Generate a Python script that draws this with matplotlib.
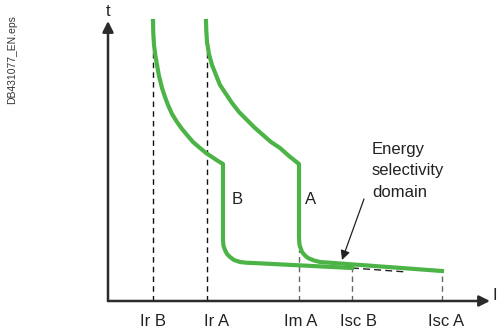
import matplotlib
matplotlib.use("Agg")
import matplotlib.pyplot as plt

plt.rcParams['font.family'] = ['Liberation Sans', 'DejaVu Sans']

# curve B (current, time), origin at the axes corner
b_curr = [45, 45.3, 46, 47.3, 49, 51, 54, 57, 60, 64, 69, 74, 79, 85, 92, 98, 104, 110, 115,
          115, 115.5, 117, 119, 122, 126, 132, 138, 145, 244]
b_time = [280, 268, 256, 246, 236, 225, 213, 204, 196, 187, 179, 172, 166, 159, 153, 148, 144, 140, 137,
          61, 55, 51, 47, 44, 41, 39, 38.3, 38, 33]

# curve A
a_curr = [98, 98.3, 99, 101, 104, 108, 112, 118, 124, 131, 139, 147, 155, 163, 172, 181, 191,
          191, 191.5, 194, 197, 200, 206, 212, 334]
a_time = [280, 270, 259, 247, 236, 226, 216, 207, 198, 189, 181, 173, 166, 159, 153, 145, 137,
          63, 56, 49, 45.5, 43, 40.5, 39, 30]

# dashed guide lines: position and top
guide_names = ["Ir B", "Ir A", "Im A", "Isc B", "Isc A"]
guide_pos = [45, 99, 191, 244, 334]
guide_top = [249, 259, 51, 33, 30]
label_pos = [45.5, 109, 193, 251, 338]
guide_col = ["#111111", "#111111", "#666666", "#666666", "#666666"]

# dashed continuation of B beyond Isc B
ext_curr = [244, 299]
ext_time = [33, 29]

green = "#4cb447"
axcol = "#2b2b2b"

fig = plt.figure(figsize=(4.97, 3.34), dpi=100)
ax = fig.add_axes([0, 0, 1, 1])
ax.set_xlim(-108, 389)
ax.set_ylim(-33, 301)
ax.axis("off")

for x, top, c in zip(guide_pos, guide_top, guide_col):
    ax.plot([x, x], [0, top], color=c, lw=1, dashes=(4, 3))
for name, x in zip(guide_names, label_pos):
    ax.text(x, -20, name, ha="center", va="center", fontsize=12, color="#222222")
ax.plot(ext_curr, ext_time, color="#222222", lw=1, dashes=(5, 3))

ax.plot(b_curr, b_time, color=green, lw=3, solid_joinstyle="round")
ax.plot(a_curr, a_time, color=green, lw=3, solid_joinstyle="round")

# axes with arrows
ax.annotate("", xy=(0, 280), xytext=(0, 0),
            arrowprops=dict(arrowstyle="-|>", lw=1.8, color=axcol, mutation_scale=16, shrinkA=0, shrinkB=0))
ax.annotate("", xy=(382, 0), xytext=(0, 0),
            arrowprops=dict(arrowstyle="-|>", lw=1.8, color=axcol, mutation_scale=16, shrinkA=0, shrinkB=0))
ax.text(0, 289, "t", ha="center", va="center", fontsize=12, color="#222222")
ax.text(384, 5, "I", ha="left", va="center", fontsize=12, color="#222222")

ax.text(129, 101, "B", ha="center", va="center", fontsize=12, color="#222222")
ax.text(203, 101, "A", ha="center", va="center", fontsize=12, color="#222222")

ax.text(264, 130, "Energy\nselectivity\ndomain", ha="left", va="center",
        fontsize=12, color="#222222", linespacing=1.55)
ax.annotate("", xy=(234, 41), xytext=(256, 102),
            arrowprops=dict(arrowstyle="-|>", lw=0.9, color="#222222", mutation_scale=14, shrinkA=0, shrinkB=0))

ax.text(-96, 241, "DB431077_EN.eps", rotation=90, ha="center", va="center",
        fontsize=7.5, color="#333333")

fig.savefig("out.png", dpi=100)
